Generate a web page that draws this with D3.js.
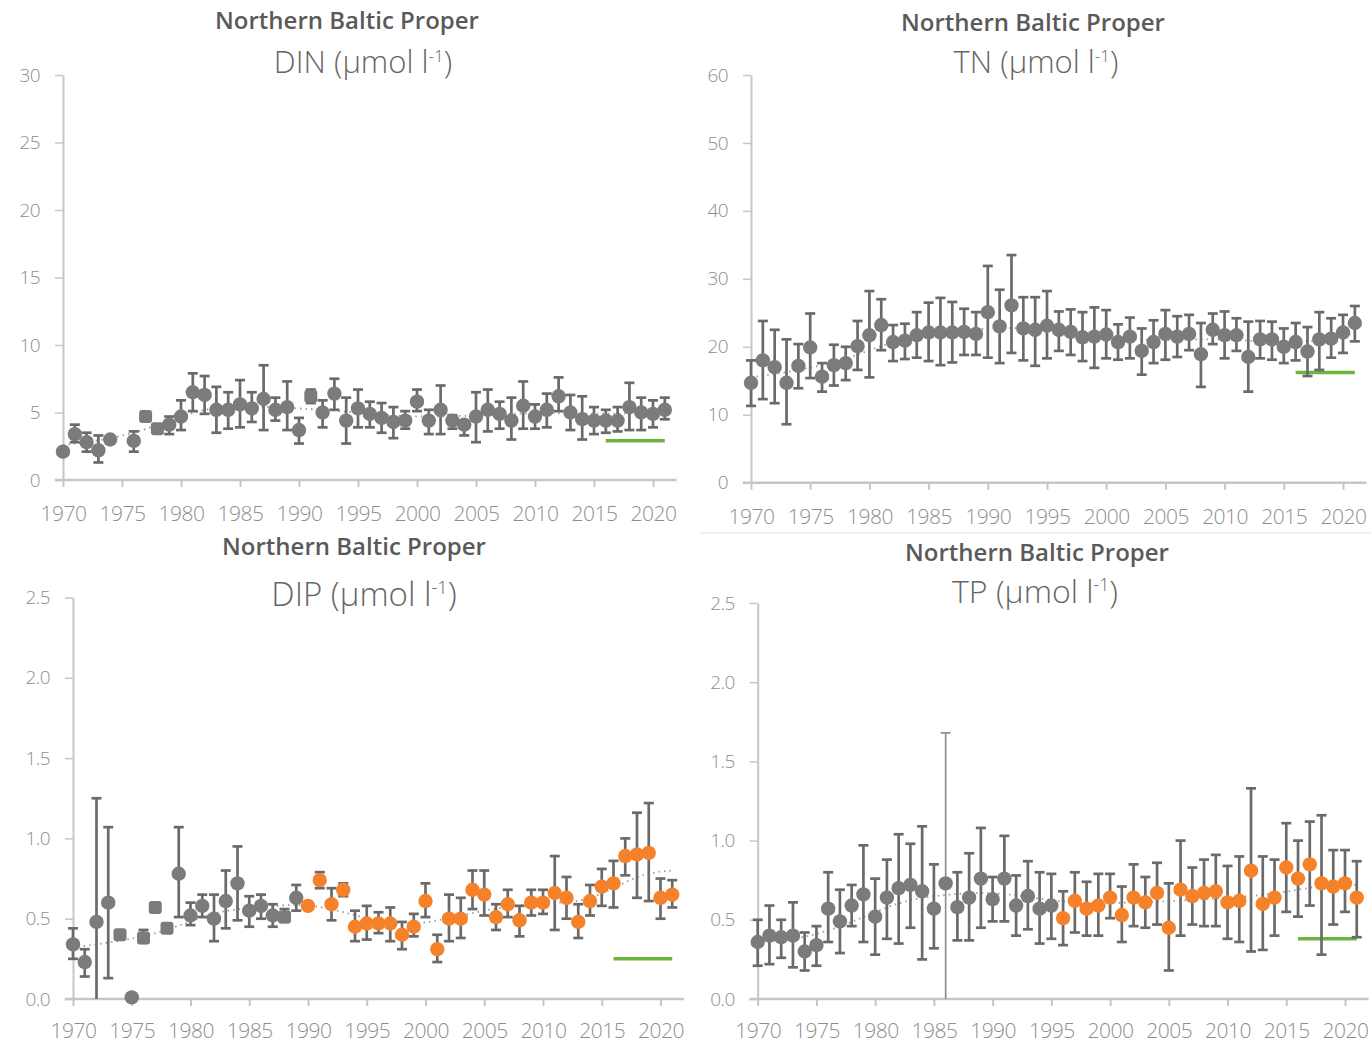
<!DOCTYPE html>
<html>
<head>
<meta charset="utf-8">
<script src="https://cdn.jsdelivr.net/npm/d3@7"></script>
<style>
  body { margin: 0; background: #fff; }
  text { font-family: "Open Sans", "Noto Sans", sans-serif; }
</style>
</head>
<body>
<script>
var w = 1371;
var h = 1043;

var years = [1970, 1971, 1972, 1973, 1974, 1975, 1976, 1977, 1978, 1979,
             1980, 1981, 1982, 1983, 1984, 1985, 1986, 1987, 1988, 1989,
             1990, 1991, 1992, 1993, 1994, 1995, 1996, 1997, 1998, 1999,
             2000, 2001, 2002, 2003, 2004, 2005, 2006, 2007, 2008, 2009,
             2010, 2011, 2012, 2013, 2014, 2015, 2016, 2017, 2018, 2019,
             2020, 2021];
var yearTicks = [1970, 1975, 1980, 1985, 1990, 1995, 2000, 2005, 2010, 2015, 2020];
var titleArea = "Northern Baltic Proper";

// DIN
var dinValue = [2.1, 3.4, 2.8, 2.2, 3.0, null, 2.9, 4.7, 3.8, 4.1,
                4.7, 6.5, 6.3, 5.2, 5.2, 5.6, 5.3, 6.0, 5.2, 5.4,
                3.7, 6.2, 5.0, 6.4, 4.4, 5.3, 4.9, 4.6, 4.3, 4.4,
                5.8, 4.4, 5.2, 4.4, 4.1, 4.7, 5.2, 4.9, 4.4, 5.5,
                4.7, 5.2, 6.2, 5.0, 4.5, 4.4, 4.4, 4.4, 5.4, 5.0,
                4.9, 5.2];
var dinLow = [null, 2.8, 2.1, 1.3, null, null, 2.1, null, null, 3.4,
              3.7, 5.1, 4.9, 3.5, 3.8, 3.9, 4.3, 3.7, 4.4, 3.7,
              2.7, 5.7, 3.9, 5.2, 2.7, 3.9, 3.9, 3.5, 3.1, 3.8,
              5.1, 3.4, 3.4, 3.8, 3.3, 2.8, 3.6, 3.8, 3.0, 3.8,
              3.8, 3.9, 5.1, 3.7, 3.0, 3.4, 3.5, 3.6, 3.7, 3.7,
              3.9, 4.5];
var dinHigh = [null, 4.1, 3.5, 3.3, null, null, 3.6, null, null, 4.7,
               5.9, 7.9, 7.7, 6.9, 6.5, 7.4, 6.5, 8.5, 6.1, 7.3,
               4.6, 6.7, 5.9, 7.5, 6.1, 6.7, 5.8, 5.7, 5.4, 5.1,
               6.7, 5.2, 7.0, 4.8, 4.4, 6.5, 6.7, 5.8, 6.1, 7.3,
               5.6, 6.4, 7.6, 6.3, 6.2, 5.4, 5.2, 5.4, 7.2, 6.1,
               5.9, 6.1];
var dinSquares = [1977, 1978, 1991];
var dinTarget = 2.9;
var dinTicks = [0, 5, 10, 15, 20, 25, 30];

// TN
var tnValue = [14.7, 18.0, 17.0, 14.7, 17.2, 19.9, 15.6, 17.3, 17.6, 20.1,
               21.7, 23.2, 20.7, 20.9, 21.7, 22.1, 22.1, 22.1, 22.2, 21.9,
               25.1, 23.0, 26.1, 22.7, 22.5, 23.1, 22.5, 22.2, 21.4, 21.5,
               21.8, 20.7, 21.5, 19.4, 20.7, 21.9, 21.5, 21.9, 18.9, 22.5,
               21.7, 21.7, 18.5, 21.1, 21.1, 20.0, 20.7, 19.3, 21.1, 21.2,
               22.1, 23.5];
var tnLow = [11.3, 12.3, 11.7, 8.6, 13.9, 15.4, 13.4, 14.3, 15.1, 16.6,
             15.5, 19.5, 17.9, 18.2, 18.4, 17.9, 17.3, 17.7, 18.8, 18.8,
             18.4, 17.6, 19.1, 18.0, 17.2, 18.3, 19.4, 18.8, 17.9, 16.9,
             18.3, 18.1, 18.3, 15.9, 17.6, 18.1, 18.5, 19.5, 14.1, 20.4,
             18.3, 19.4, 13.4, 18.3, 18.1, 17.6, 18.0, 15.7, 16.6, 18.4,
             19.1, 20.8];
var tnHigh = [18.0, 23.8, 22.5, 21.1, 20.4, 24.9, 17.6, 20.3, 20.0, 23.8,
              28.2, 27.0, 23.2, 23.4, 25.1, 26.5, 27.2, 26.6, 25.6, 25.1,
              31.9, 28.4, 33.5, 27.3, 27.3, 28.2, 25.2, 25.5, 25.1, 25.8,
              25.4, 23.3, 24.3, 22.7, 23.9, 25.4, 24.5, 24.7, 23.5, 24.9,
              25.2, 24.2, 23.7, 23.8, 23.7, 22.7, 23.5, 22.9, 25.1, 24.2,
              24.7, 26.0];
var tnTarget = 16.2;
var tnTicks = [0, 10, 20, 30, 40, 50, 60];

// DIP
var dipValue = [0.34, 0.23, 0.48, 0.60, 0.40, 0.01, 0.38, 0.57, 0.44, 0.78,
                0.52, 0.58, 0.50, 0.61, 0.72, 0.55, 0.58, 0.52, 0.51, 0.63,
                0.58, 0.74, 0.59, 0.68, 0.45, 0.47, 0.47, 0.47, 0.40, 0.45,
                0.61, 0.31, 0.50, 0.50, 0.68, 0.65, 0.51, 0.59, 0.49, 0.60,
                0.60, 0.66, 0.63, 0.48, 0.61, 0.70, 0.72, 0.89, 0.90, 0.91,
                0.63, 0.65];
var dipLow = [0.25, 0.14, 0.00, 0.13, null, null, 0.35, null, null, 0.51,
              0.46, 0.51, 0.36, 0.44, 0.49, 0.45, 0.50, 0.45, 0.48, 0.55,
              null, 0.69, 0.49, 0.64, 0.36, 0.37, 0.41, 0.36, 0.31, 0.39,
              0.51, 0.23, 0.36, 0.38, 0.56, 0.52, 0.43, 0.51, 0.39, 0.52,
              0.53, 0.43, 0.50, 0.38, 0.52, 0.58, 0.57, 0.77, 0.63, 0.61,
              0.50, 0.57];
var dipHigh = [0.44, 0.31, 1.25, 1.07, null, null, 0.43, null, null, 1.07,
               0.60, 0.65, 0.65, 0.80, 0.95, 0.64, 0.65, 0.59, 0.56, 0.71,
               null, 0.79, 0.69, 0.72, 0.55, 0.58, 0.54, 0.57, 0.48, 0.53,
               0.72, 0.40, 0.65, 0.63, 0.80, 0.80, 0.59, 0.68, 0.58, 0.68,
               0.68, 0.89, 0.76, 0.59, 0.71, 0.81, 0.86, 1.00, 1.16, 1.22,
               0.75, 0.74];
var dipSquares = [1974, 1976, 1977, 1978, 1988];
var dipOrangeFrom = 1990;
var dipTarget = 0.25;
var pTicks = [0, 0.5, 1.0, 1.5, 2.0, 2.5];

// TP
var tpValue = [0.36, 0.40, 0.39, 0.40, 0.30, 0.34, 0.57, 0.49, 0.59, 0.66,
               0.52, 0.64, 0.70, 0.72, 0.68, 0.57, 0.73, 0.58, 0.64, 0.76,
               0.63, 0.76, 0.59, 0.65, 0.57, 0.59, 0.51, 0.62, 0.57, 0.59,
               0.64, 0.53, 0.64, 0.61, 0.67, 0.45, 0.69, 0.65, 0.67, 0.68,
               0.61, 0.62, 0.81, 0.60, 0.64, 0.83, 0.76, 0.85, 0.73, 0.71,
               0.73, 0.64];
var tpLow = [0.21, 0.22, 0.26, 0.20, 0.18, 0.21, 0.36, 0.29, 0.46, 0.36,
             0.28, 0.38, 0.35, 0.45, 0.25, 0.32, 0.00, 0.37, 0.37, 0.45,
             0.49, 0.49, 0.40, 0.44, 0.35, 0.38, 0.34, 0.42, 0.40, 0.40,
             0.51, 0.36, 0.46, 0.45, 0.47, 0.18, 0.40, 0.47, 0.46, 0.46,
             0.38, 0.36, 0.30, 0.31, 0.40, 0.55, 0.52, 0.59, 0.28, 0.47,
             0.55, 0.39];
var tpHigh = [0.50, 0.59, 0.50, 0.61, 0.42, 0.46, 0.80, 0.69, 0.72, 0.97,
              0.76, 0.88, 1.04, 0.98, 1.09, 0.85, 1.68, 0.80, 0.92, 1.08,
              0.77, 1.03, 0.78, 0.87, 0.80, 0.79, 0.68, 0.80, 0.74, 0.79,
              0.79, 0.71, 0.85, 0.77, 0.86, 0.73, 1.00, 0.83, 0.88, 0.91,
              0.84, 0.90, 1.33, 0.90, 0.88, 1.11, 1.00, 1.12, 1.16, 0.94,
              0.94, 0.87];
var tpThin = [1986];
var tpOrangeFrom = 1996;
var tpTarget = 0.38;

// target period and smoothed trend
var targetYears = [2016, 2021];
var trendYears = [1970, 1974, 1978, 1982, 1986, 1990, 1994, 1998, 2002, 2006, 2010, 2014, 2018, 2021];
var dinTrend = [2.6, 3.0, 4.0, 5.4, 5.5, 5.3, 5.1, 4.7, 4.7, 4.8, 5.0, 4.9, 4.9, 5.1];
var tnTrend = [15.5, 16.5, 18.0, 21.0, 22.0, 22.8, 22.8, 21.8, 21.0, 21.0, 21.2, 20.6, 20.8, 22.0];
var dipTrend = [0.32, 0.36, 0.42, 0.55, 0.57, 0.60, 0.52, 0.45, 0.50, 0.57, 0.60, 0.60, 0.78, 0.80];
var tpTrend = [0.36, 0.38, 0.48, 0.62, 0.66, 0.68, 0.63, 0.60, 0.61, 0.62, 0.64, 0.66, 0.72, 0.72];

var grey = "#7b7b7b";
var orange = "#f5822a";
var barColor = "#6a6a6a";
var axisColor = "#c6c6c6";
var labelColor = "#8e8e8e";

var svg = d3.select("body")
      .append("svg")
      .attr("width", w)
      .attr("height", h);

// faint separator seen on the right half
svg.append("line")
    .attr("x1", 700).attr("x2", w)
    .attr("y1", 533).attr("y2", 533)
    .attr("stroke", "#ececec")
    .attr("stroke-width", 1.5);

function drawPanel(p) {
  var g = svg.append("g");

  var xScale = d3.scaleLinear().domain([1970, 2020]).range(p.xr);
  var yScale = d3.scaleLinear().domain([0, p.yMax]).range(p.yr);

  var rows = years.map(function(yr, i) {
    return { year: yr, v: p.values[i], lo: p.lows[i], hi: p.highs[i] };
  }).filter(function(d) { return d.v !== null; });

  // axes
  var xAxis = d3.axisBottom(xScale)
      .tickValues(yearTicks)
      .tickFormat(d3.format("d"))
      .tickSize(7)
      .tickPadding(p.xPad)
      .tickSizeOuter(0);

  var yAxis = d3.axisLeft(yScale)
      .tickValues(p.ticks)
      .tickFormat(p.fmt)
      .tickSize(8)
      .tickPadding(15)
      .tickSizeOuter(0);

  var gx = g.append("g")
      .attr("transform", "translate(0," + yScale(0) + ")")
      .call(xAxis);
  gx.select(".domain").remove();
  gx.selectAll("line").attr("stroke", axisColor).attr("stroke-width", 2);
  gx.selectAll("text")
      .attr("fill", labelColor)
      .style("font-size", "21px")
      .style("font-weight", "300")
      .style("letter-spacing", "-0.5px");

  g.append("line")
      .attr("x1", xScale(1969.3)).attr("x2", xScale(2022))
      .attr("y1", yScale(0)).attr("y2", yScale(0))
      .attr("stroke", axisColor)
      .attr("stroke-width", 2.5);

  var gy = g.append("g")
      .attr("transform", "translate(" + xScale(1970) + ",0)")
      .call(yAxis);
  gy.select(".domain").attr("stroke", axisColor).attr("stroke-width", 2);
  gy.selectAll("line").attr("stroke", axisColor).attr("stroke-width", 1.5);
  gy.selectAll("text")
      .attr("fill", labelColor)
      .style("font-size", "19px")
      .style("font-weight", "300")
      .style("letter-spacing", "-0.6px");

  // titles
  g.append("text")
      .attr("x", p.titleX)
      .attr("y", p.titleY)
      .attr("text-anchor", "middle")
      .attr("fill", "#5a5a5a")
      .style("font-size", "24px")
      .style("font-weight", "600")
      .text(titleArea);

  var sub = g.append("text")
      .attr("x", p.subX)
      .attr("y", p.subY)
      .attr("text-anchor", "middle")
      .attr("fill", "#666")
      .style("font-size", p.subSize + "px")
      .style("font-weight", "300");
  sub.append("tspan").text(p.name + " (µmol l");
  sub.append("tspan")
      .attr("baseline-shift", "super")
      .style("font-size", (p.subSize * 0.55) + "px")
      .text("-1");
  sub.append("tspan").text(")");

  // trend (dotted)
  var trendLine = d3.line()
      .x(function(d) { return xScale(d[0]); })
      .y(function(d) { return yScale(d[1]); })
      .curve(d3.curveBasis);
  g.append("path")
      .datum(trendYears.map(function(yr, i) { return [yr, p.trend[i]]; }))
      .attr("d", trendLine)
      .attr("fill", "none")
      .attr("stroke", "#9a9a9a")
      .attr("stroke-width", 1.8)
      .attr("stroke-dasharray", "1.5,4");

  // target
  g.append("line")
      .attr("x1", xScale(targetYears[0])).attr("x2", xScale(targetYears[1]))
      .attr("y1", yScale(p.target)).attr("y2", yScale(p.target))
      .attr("stroke", "#6db33f")
      .attr("stroke-width", 3.5);

  // error bars
  var thin = p.thin || [];
  var bars = rows.filter(function(d) { return d.lo !== null && d.hi !== null; });
  function sw(d) { return thin.indexOf(d.year) >= 0 ? 1.6 : 2.7; }
  function sc(d) { return thin.indexOf(d.year) >= 0 ? "#8a8a8a" : barColor; }
  var eb = g.append("g");
  eb.selectAll(".v")
      .data(bars)
      .enter()
      .append("line")
      .attr("stroke", sc)
      .attr("stroke-width", sw)
      .attr("x1", function(d) { return xScale(d.year); })
      .attr("x2", function(d) { return xScale(d.year); })
      .attr("y1", function(d) { return yScale(d.lo); })
      .attr("y2", function(d) { return yScale(d.hi); });
  eb.selectAll(".top")
      .data(bars)
      .enter()
      .append("line")
      .attr("stroke", sc)
      .attr("stroke-width", sw)
      .attr("x1", function(d) { return xScale(d.year) - 5; })
      .attr("x2", function(d) { return xScale(d.year) + 5; })
      .attr("y1", function(d) { return yScale(d.hi); })
      .attr("y2", function(d) { return yScale(d.hi); });
  eb.selectAll(".bot")
      .data(bars.filter(function(d) { return d.lo > 0; }))
      .enter()
      .append("line")
      .attr("stroke", sc)
      .attr("stroke-width", sw)
      .attr("x1", function(d) { return xScale(d.year) - 5; })
      .attr("x2", function(d) { return xScale(d.year) + 5; })
      .attr("y1", function(d) { return yScale(d.lo); })
      .attr("y2", function(d) { return yScale(d.lo); });

  // markers
  function fillOf(d) {
    return (p.orangeFrom && d.year >= p.orangeFrom) ? orange : grey;
  }
  var sq = p.squares || [];
  g.selectAll("circle.pt")
      .data(rows.filter(function(d) { return sq.indexOf(d.year) < 0; }))
      .enter()
      .append("circle")
      .attr("cx", function(d) { return xScale(d.year); })
      .attr("cy", function(d) { return yScale(d.v); })
      .attr("r", 7.2)
      .attr("fill", fillOf);
  g.selectAll("rect.pt")
      .data(rows.filter(function(d) { return sq.indexOf(d.year) >= 0; }))
      .enter()
      .append("rect")
      .attr("x", function(d) { return xScale(d.year) - 6.5; })
      .attr("y", function(d) { return yScale(d.v) - 6.5; })
      .attr("width", 13)
      .attr("height", 13)
      .attr("rx", 3)
      .attr("fill", fillOf);
}

drawPanel({
  name: "DIN", values: dinValue, lows: dinLow, highs: dinHigh, squares: dinSquares,
  target: dinTarget, trend: dinTrend, yMax: 30, ticks: dinTicks, fmt: d3.format("d"),
  xr: [63, 653], yr: [480, 75], xPad: 19,
  titleX: 347, titleY: 29, subX: 363, subY: 73, subSize: 31
});

drawPanel({
  name: "TN", values: tnValue, lows: tnLow, highs: tnHigh,
  target: tnTarget, trend: tnTrend, yMax: 60, ticks: tnTicks, fmt: d3.format("d"),
  xr: [751, 1343], yr: [482.7, 75], xPad: 19,
  titleX: 1033, titleY: 31, subX: 1036, subY: 73, subSize: 31
});

drawPanel({
  name: "DIP", values: dipValue, lows: dipLow, highs: dipHigh, squares: dipSquares,
  orangeFrom: dipOrangeFrom, target: dipTarget, trend: dipTrend, yMax: 2.5, ticks: pTicks,
  fmt: d3.format(".1f"), xPad: 17,
  xr: [73, 660.5], yr: [999, 597.5],
  titleX: 354, titleY: 555, subX: 364, subY: 606, subSize: 33
});

drawPanel({
  name: "TP", values: tpValue, lows: tpLow, highs: tpHigh, thin: tpThin,
  orangeFrom: tpOrangeFrom, target: tpTarget, trend: tpTrend, yMax: 2.5, ticks: pTicks,
  fmt: d3.format(".1f"), xPad: 17,
  xr: [757.7, 1345], yr: [999, 603],
  titleX: 1037, titleY: 561, subX: 1035, subY: 603, subSize: 32
});
</script>
</body>
</html>
